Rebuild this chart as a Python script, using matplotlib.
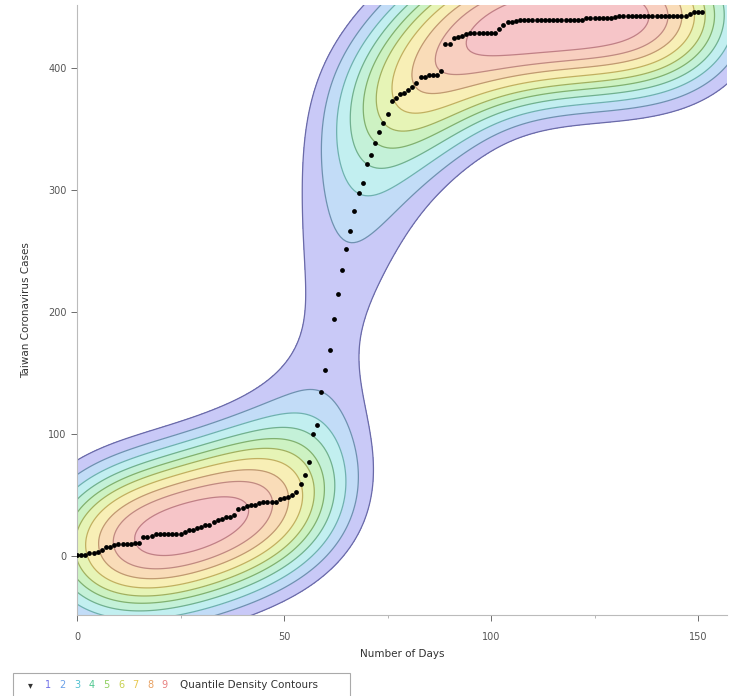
import numpy as np
import matplotlib
matplotlib.use("Agg")
import matplotlib.pyplot as plt
from matplotlib.patches import Rectangle

# ---- data: cumulative Taiwan coronavirus cases by day (day 0 = Jan 21, 2020)
days = list(range(0, 152))
cases = [
    1, 1, 1, 3, 3, 4, 5, 8, 8, 9,            # 0-9
    10, 10, 10, 10, 11, 11, 16, 16, 17, 18,  # 10-19
    18, 18, 18, 18, 18, 18, 20, 22, 22, 23,  # 20-29
    24, 26, 26, 28, 30, 31, 32, 32, 34, 39,  # 30-39
    40, 41, 42, 42, 44, 45, 45, 45, 45, 47,  # 40-49
    48, 49, 50, 53, 59, 67, 77, 100, 108, 135,   # 50-59
    153, 169, 195, 215, 235, 252, 267, 283, 298, 306,  # 60-69
    322, 329, 339, 348, 355, 363, 373, 376, 379, 380,  # 70-79
    382, 385, 388, 393, 393, 395, 395, 395, 398, 420,  # 80-89
    420, 425, 426, 427, 428, 429, 429, 429, 429, 429,  # 90-99
    429, 429, 432, 436, 438, 438, 439, 440, 440, 440,  # 100-109
    440, 440, 440, 440, 440, 440, 440, 440, 440, 440,  # 110-119
    440, 440, 440, 441, 441, 441, 441, 441, 441, 441,  # 120-129
    442, 443, 443, 443, 443, 443, 443, 443, 443, 443,  # 130-139
    443, 443, 443, 443, 443, 443, 443, 443, 445, 446,  # 140-149
    446, 446,                                           # 150-151
]
x_ticks = [0, 50, 100, 150]
y_ticks = [0, 100, 200, 300, 400]
legend_nums = ["1", "2", "3", "4", "5", "6", "7", "8", "9"]
# contour levels as fractions of the peak density (outer -> inner)
level_fracs = [0.15, 0.22, 0.29, 0.36, 0.43, 0.50, 0.58, 0.67, 0.76, 0.86]

fill_colors = ["#c9c9f7", "#c2dcf7", "#c2eff0", "#c4f1d8", "#cdf2c2",
               "#e6f4b6", "#f8efb6", "#f9dcb8", "#f8cfc0", "#f6c5c8"]
line_colors = ["#6a6aa8", "#6f90b0", "#6fb0b0", "#70b090", "#80b070",
               "#a0b060", "#c0b060", "#c09a70", "#c08a80", "#c08085"]

X = np.array(days, dtype=float)
Y = np.array(cases, dtype=float)

# ---- kernel density
hx, hy = 13.0, 44.0
gx = np.linspace(-40, 200, 360)
gy = np.linspace(-180, 640, 400)
GX, GY = np.meshgrid(gx, gy)
D = np.zeros_like(GX)
for xi, yi in zip(X, Y):
    D += np.exp(-0.5 * (((GX - xi) / hx) ** 2 + ((GY - yi) / hy) ** 2))
D /= D.max()
levels = list(level_fracs)
fill_levels = levels + [1.01]

fig = plt.figure(figsize=(7.30, 6.96), dpi=100)
ax = fig.add_axes([77 / 730, 1 - 615 / 696, 650 / 730, 610 / 696])
ax.contourf(GX, GY, D, levels=fill_levels, colors=fill_colors, zorder=1)
ax.contour(GX, GY, D, levels=levels, colors=line_colors, linewidths=0.9, zorder=2)
ax.scatter(X, Y, s=12, color="black", zorder=3, linewidths=0)

ax.set_xlim(0, 157)
ax.set_ylim(-48, 452)
ax.set_xticks(x_ticks)
ax.set_yticks(y_ticks)
ax.set_xticks([25, 75, 125], minor=True)
ax.tick_params(axis="both", labelsize=7, colors="#555555", length=4, width=0.6)
ax.tick_params(axis="x", pad=8)
ax.tick_params(which="minor", length=2, width=0.5, colors="#999999")
for s in ["top", "right"]:
    ax.spines[s].set_visible(False)
for s in ["left", "bottom"]:
    ax.spines[s].set_color("#bbbbbb")
    ax.spines[s].set_linewidth(0.8)
ax.set_xlabel("Number of Days", fontsize=7.5, color="#333333", labelpad=5)
ax.set_ylabel("Taiwan Coronavirus Cases", fontsize=7.5, color="#333333", labelpad=12)

# ---- legend strip
fig.patches.append(Rectangle((13 / 730, -2 / 696), 337 / 730, 25 / 696,
                             transform=fig.transFigure, facecolor="white",
                             edgecolor="#aaaaaa", linewidth=0.8))
fig.text(30 / 730, 11 / 696, "\u25be", fontsize=7, color="#333333", va="center", ha="center")
num_colors = ["#7070e8", "#6aa0e8", "#50c0d0", "#50c890", "#90d060",
              "#c8d050", "#e8c850", "#e8a060", "#e88080"]
for i, (t, c) in enumerate(zip(legend_nums, num_colors)):
    fig.text((48 + i * 14.6) / 730, 11 / 696, t, fontsize=7, color=c, va="center", ha="center")
fig.text(180 / 730, 11 / 696, "Quantile Density Contours", fontsize=7.5,
         color="#333333", va="center")

fig.savefig("out.png", dpi=100)
